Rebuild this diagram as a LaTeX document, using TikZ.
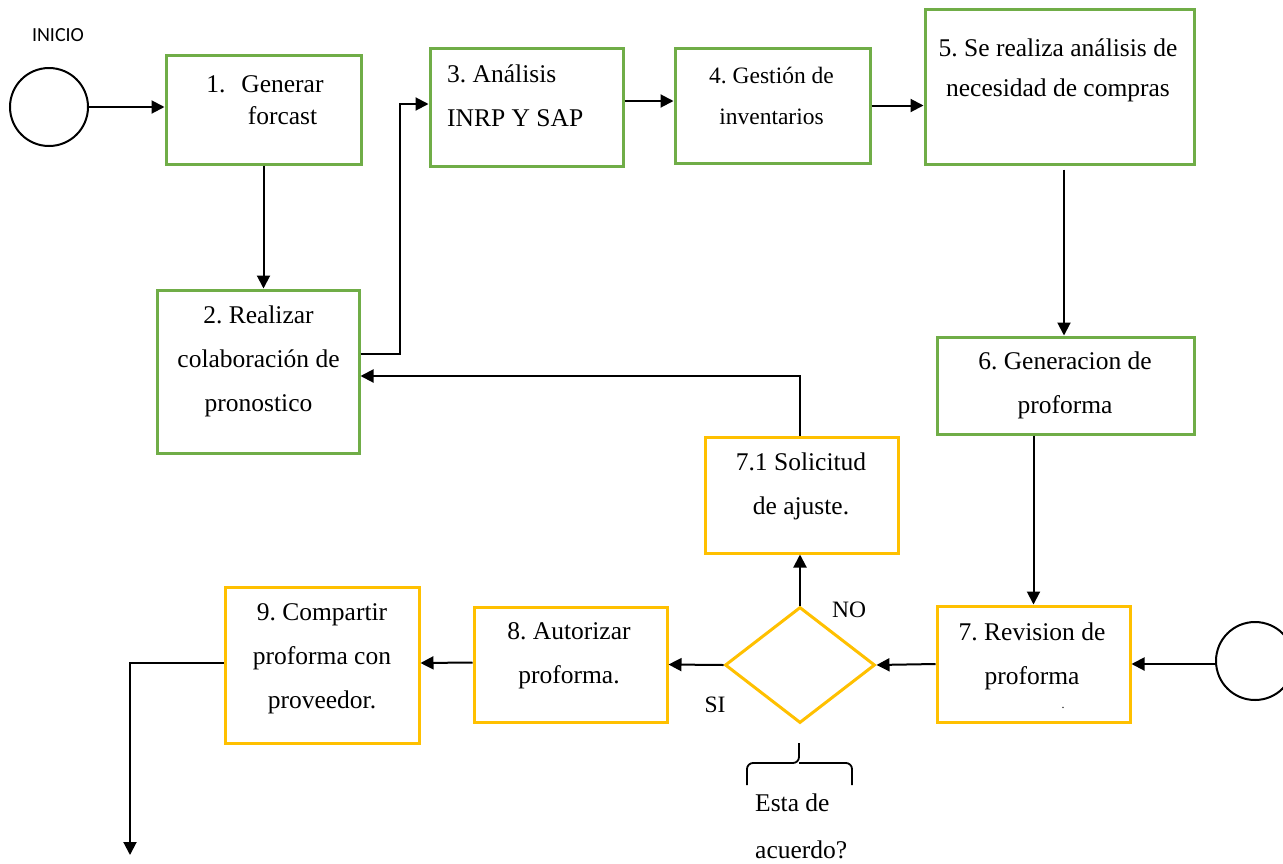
\documentclass[tikz,border=0pt]{standalone}
\usepackage{fontspec}
\setmainfont{Liberation Serif}
\newfontfamily\labelsans{Carlito}
\usepackage{xcolor}
\definecolor{stepgreen}{HTML}{70AD47}
\definecolor{stepyellow}{HTML}{FFC000}
\usepackage{tikz}
\usetikzlibrary{arrows.meta, shapes.geometric, positioning, calc}
\frenchspacing

\tikzset{
  greenbox/.style={draw=stepgreen, line width=3pt, inner sep=0pt},
  yellowbox/.style={draw=stepyellow, line width=3pt, inner sep=0pt},
  txt/.style={align=center, inner sep=0pt, font=\fontsize{25.5}{44}\selectfont},
  link/.style={draw, line width=2pt, -{Triangle[length=13pt,width=13pt]}},
  endcircle/.style={circle, draw, line width=2pt, minimum size=78pt, inner sep=0pt}
}

\begin{document}
\begin{tikzpicture}[x=1pt, y=-1pt]
  \useasboundingbox (0,0) rectangle (1283,863);

  % inicio
  \node[font=\labelsans\fontsize{20}{24}\selectfont] (inicio) at (58,35) {INICIO};
  \node[endcircle] (s) at (49,107) {};
  \node[endcircle] (e) at (1255,661) {};

  % top row
  \node[greenbox, minimum width=195pt, minimum height=109pt] (b1) at (263.5,109.5) {};
  \node[greenbox, minimum width=202pt, minimum height=163pt] (b2) at (258,371.5) {};
  \node[greenbox, minimum width=193pt, minimum height=118pt] (b3) at (526.5,107) {};
  \node[greenbox, minimum width=195pt, minimum height=115pt] (b4) at (772.5,105.5) {};
  \node[greenbox, minimum width=269pt, minimum height=155pt] (b5) at (1059.5,86.5) {};
  \node[greenbox, minimum width=257pt, minimum height=97pt] (b6) at (1065.5,385.5) {};

  % bottom row
  \node[yellowbox, minimum width=193pt, minimum height=116pt] (b71) at (801.5,495) {};
  \node[yellowbox, minimum width=193pt, minimum height=116pt] (b7) at (1033.5,664) {};
  \node[yellowbox, diamond, aspect=1.29, minimum width=150pt, minimum height=116pt] (dec) at (800,665) {};
  \node[yellowbox, minimum width=193pt, minimum height=115pt] (b8) at (570.5,664.5) {};
  \node[yellowbox, minimum width=194pt, minimum height=156pt] (b9) at (322,665) {};

  % texts
  \node[txt, font=\fontsize{25.5}{32}\selectfont] (t1) at (282.5,100) {\llap{1.\hspace{16pt}}Generar\\forcast};
  \node[txt] (t2) at (258.5,361) {2. Realizar\\colaboración de\\pronostico};
  \node[txt, align=left, anchor=west] (t3) at (447,96) {3. Análisis\\INRP Y SAP};
  \node[txt, font=\fontsize{23.5}{41}\selectfont] (t4) at (771.5,95.5) {4. Gestión de\\inventarios};
  \node[txt, font=\fontsize{25.5}{40}\selectfont] (t5) at (1058,70) {5. Se realiza análisis de\\necesidad de compras};
  \node[txt] (t6) at (1065,385) {6. Generacion de\\proforma};
  \node[txt] (t71) at (801,486) {7.1 Solicitud\\de ajuste.};
  \node[txt] (t7) at (1032,656) {7. Revision de\\proforma};
  \node[txt, font=\fontsize{12}{14}\selectfont] (t7dot) at (1063,708) {.};
  \node[txt] (t8) at (569,656) {8. Autorizar\\proforma.};
  \node[txt] (t9) at (322,659) {9. Compartir\\proforma con\\proveedor.};
  \node[txt, font=\fontsize{23.5}{28}\selectfont] (no) at (849,610) {NO};
  \node[txt, font=\fontsize{23.5}{28}\selectfont] (si) at (715,705) {SI};
  \node[txt, align=left, anchor=west, font=\fontsize{25.5}{47}\selectfont] (q) at (755,826) {Esta de\\acuerdo?};

  % brace under the decision
  \draw[line width=1.8pt, rounded corners=6pt] (747,785) -- (747,763) -- (799,763) -- (799,743);
  \draw[line width=1.8pt, rounded corners=6pt] (852,785) -- (852,763) -- (799,763);

  % flow
  \coordinate (fin) at (130,855);
  \draw[link] (s) -- (s -| b1.west);
  \draw[link] (b1.south) -- (b1.south |- b2.north);
  \draw[link] ([yshift=17.5pt]b2.east) -- ++(39,0) |- ([yshift=3pt]b3.west);
  \draw[link] ([yshift=6pt]b3.east) -- ([yshift=6pt]b3.east -| b4.west);
  \draw[link] (b4.east) -- (b4.east -| b5.west);
  \draw[link] ([xshift=4.5pt,yshift=-4pt]b5.south) -- ([xshift=4.5pt]b5.south |- b6.north);
  \draw[link] (b6.south -| b7) -- (b7.north);
  \draw[link] (b7.east -| e.west) -- (b7.east);
  \draw[link] (b7.west) -- (dec.east);
  \draw[link] (dec.west) -- (b8.east);
  \draw[link] ([yshift=2pt]b8.west) -- ([yshift=2pt]b9.east);
  \draw[link] ([yshift=2pt]b9.west) -| (fin);
  \draw[link] (dec.north) -- (dec.north |- b71.south);
  \draw[link] (dec.north |- b71.north) |- ([yshift=-4.5pt]b2.east);
\end{tikzpicture}
\end{document}
